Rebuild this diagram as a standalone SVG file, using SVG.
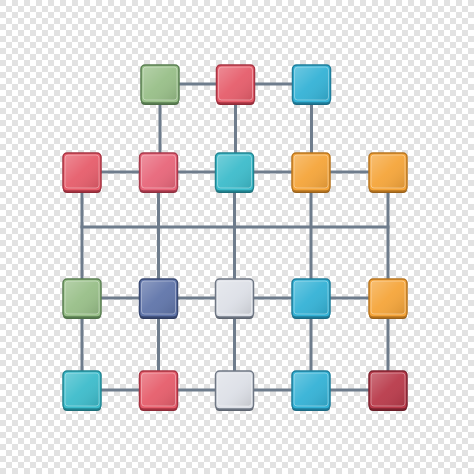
<svg xmlns="http://www.w3.org/2000/svg" width="474" height="474" viewBox="0 0 474 474">
<defs>
<pattern id="chk" width="12" height="12" patternUnits="userSpaceOnUse">
<rect width="12" height="12" fill="#ffffff"/>
<rect width="6" height="6" fill="#e2e2e2"/>
<rect x="6" y="6" width="6" height="6" fill="#e2e2e2"/>
</pattern>
<linearGradient id="shine" x1="0" y1="0" x2="1" y2="1">
<stop offset="0" stop-color="#ffffff" stop-opacity="0.28"/>
<stop offset="0.5" stop-color="#ffffff" stop-opacity="0.05"/>
<stop offset="1" stop-color="#000000" stop-opacity="0.12"/>
</linearGradient>
<g id="box">
<rect x="-19" y="-17" width="38" height="38" rx="4" fill="#000" opacity="0.25"/>
</g>
</defs>
<style>
.wire{stroke:#6e7c8c;stroke-width:3;fill:none;stroke-linecap:square}
.sh{opacity:0.9}
.hl{fill:url(#shine);stroke:#ffffff;stroke-opacity:0.35;stroke-width:1}
.green .b{fill:#98bf88;stroke:#5a7f52}
.green .s{fill:#4f7048}
.red .b{fill:#e65d6b;stroke:#a83443}
.red .s{fill:#8f2a37}
.pink .b{fill:#e8667a;stroke:#a93a4c}
.pink .s{fill:#8e2f3f}
.blue .b{fill:#34b2d6;stroke:#1f7d9b}
.blue .s{fill:#1b6a84}
.teal .b{fill:#3dbccb;stroke:#228592}
.teal .s{fill:#1d6f7a}
.orange .b{fill:#f5a53a;stroke:#b87520}
.orange .s{fill:#9a611a}
.navy .b{fill:#6075aa;stroke:#3a4a73}
.navy .s{fill:#2f3c60}
.gray .b{fill:#dde0e7;stroke:#6f7784}
.gray .s{fill:#5e6570}
.dred .b{fill:#b93a4a;stroke:#7f2330}
.dred .s{fill:#6a1c27}
</style>
<rect width="474" height="474" fill="url(#chk)"/>
<g id="connectors">
<path class="wire" d="M160 84H311.5M82 172H388M82 227H388M82 298H388M82 390H388"/>
<path class="wire" d="M160 84V172M235.5 84V172M311.5 84V172"/>
<path class="wire" d="M82 172V390M158.5 172V390M234.5 172V390M311 172V390M388 172V390"/>
</g>
<g id="n00" class="green" transform="translate(160,84)"><rect class="s" x="-19" y="-17" width="38" height="38" rx="4"/><rect class="b" x="-19" y="-19" width="38" height="38" rx="4" stroke-width="1.5"/><rect class="hl" x="-17" y="-17" width="34" height="33" rx="3"/></g>
<g id="n01" class="red" transform="translate(235.5,84)"><rect class="s" x="-19" y="-17" width="38" height="38" rx="4"/><rect class="b" x="-19" y="-19" width="38" height="38" rx="4" stroke-width="1.5"/><rect class="hl" x="-17" y="-17" width="34" height="33" rx="3"/></g>
<g id="n02" class="blue" transform="translate(311.5,84)"><rect class="s" x="-19" y="-17" width="38" height="38" rx="4"/><rect class="b" x="-19" y="-19" width="38" height="38" rx="4" stroke-width="1.5"/><rect class="hl" x="-17" y="-17" width="34" height="33" rx="3"/></g>
<g id="n10" class="red" transform="translate(82,172)"><rect class="s" x="-19" y="-17" width="38" height="38" rx="4"/><rect class="b" x="-19" y="-19" width="38" height="38" rx="4" stroke-width="1.5"/><rect class="hl" x="-17" y="-17" width="34" height="33" rx="3"/></g>
<g id="n11" class="pink" transform="translate(158.5,172)"><rect class="s" x="-19" y="-17" width="38" height="38" rx="4"/><rect class="b" x="-19" y="-19" width="38" height="38" rx="4" stroke-width="1.5"/><rect class="hl" x="-17" y="-17" width="34" height="33" rx="3"/></g>
<g id="n12" class="teal" transform="translate(234.5,172)"><rect class="s" x="-19" y="-17" width="38" height="38" rx="4"/><rect class="b" x="-19" y="-19" width="38" height="38" rx="4" stroke-width="1.5"/><rect class="hl" x="-17" y="-17" width="34" height="33" rx="3"/></g>
<g id="n13" class="orange" transform="translate(311,172)"><rect class="s" x="-19" y="-17" width="38" height="38" rx="4"/><rect class="b" x="-19" y="-19" width="38" height="38" rx="4" stroke-width="1.5"/><rect class="hl" x="-17" y="-17" width="34" height="33" rx="3"/></g>
<g id="n14" class="orange" transform="translate(388,172)"><rect class="s" x="-19" y="-17" width="38" height="38" rx="4"/><rect class="b" x="-19" y="-19" width="38" height="38" rx="4" stroke-width="1.5"/><rect class="hl" x="-17" y="-17" width="34" height="33" rx="3"/></g>
<g id="n20" class="green" transform="translate(82,298)"><rect class="s" x="-19" y="-17" width="38" height="38" rx="4"/><rect class="b" x="-19" y="-19" width="38" height="38" rx="4" stroke-width="1.5"/><rect class="hl" x="-17" y="-17" width="34" height="33" rx="3"/></g>
<g id="n21" class="navy" transform="translate(158.5,298)"><rect class="s" x="-19" y="-17" width="38" height="38" rx="4"/><rect class="b" x="-19" y="-19" width="38" height="38" rx="4" stroke-width="1.5"/><rect class="hl" x="-17" y="-17" width="34" height="33" rx="3"/></g>
<g id="n22" class="gray" transform="translate(234.5,298)"><rect class="s" x="-19" y="-17" width="38" height="38" rx="4"/><rect class="b" x="-19" y="-19" width="38" height="38" rx="4" stroke-width="1.5"/><rect class="hl" x="-17" y="-17" width="34" height="33" rx="3"/></g>
<g id="n23" class="blue" transform="translate(311,298)"><rect class="s" x="-19" y="-17" width="38" height="38" rx="4"/><rect class="b" x="-19" y="-19" width="38" height="38" rx="4" stroke-width="1.5"/><rect class="hl" x="-17" y="-17" width="34" height="33" rx="3"/></g>
<g id="n24" class="orange" transform="translate(388,298)"><rect class="s" x="-19" y="-17" width="38" height="38" rx="4"/><rect class="b" x="-19" y="-19" width="38" height="38" rx="4" stroke-width="1.5"/><rect class="hl" x="-17" y="-17" width="34" height="33" rx="3"/></g>
<g id="n30" class="teal" transform="translate(82,390)"><rect class="s" x="-19" y="-17" width="38" height="38" rx="4"/><rect class="b" x="-19" y="-19" width="38" height="38" rx="4" stroke-width="1.5"/><rect class="hl" x="-17" y="-17" width="34" height="33" rx="3"/></g>
<g id="n31" class="red" transform="translate(158.5,390)"><rect class="s" x="-19" y="-17" width="38" height="38" rx="4"/><rect class="b" x="-19" y="-19" width="38" height="38" rx="4" stroke-width="1.5"/><rect class="hl" x="-17" y="-17" width="34" height="33" rx="3"/></g>
<g id="n32" class="gray" transform="translate(234.5,390)"><rect class="s" x="-19" y="-17" width="38" height="38" rx="4"/><rect class="b" x="-19" y="-19" width="38" height="38" rx="4" stroke-width="1.5"/><rect class="hl" x="-17" y="-17" width="34" height="33" rx="3"/></g>
<g id="n33" class="blue" transform="translate(311,390)"><rect class="s" x="-19" y="-17" width="38" height="38" rx="4"/><rect class="b" x="-19" y="-19" width="38" height="38" rx="4" stroke-width="1.5"/><rect class="hl" x="-17" y="-17" width="34" height="33" rx="3"/></g>
<g id="n34" class="dred" transform="translate(388,390)"><rect class="s" x="-19" y="-17" width="38" height="38" rx="4"/><rect class="b" x="-19" y="-19" width="38" height="38" rx="4" stroke-width="1.5"/><rect class="hl" x="-17" y="-17" width="34" height="33" rx="3"/></g>
</svg>
